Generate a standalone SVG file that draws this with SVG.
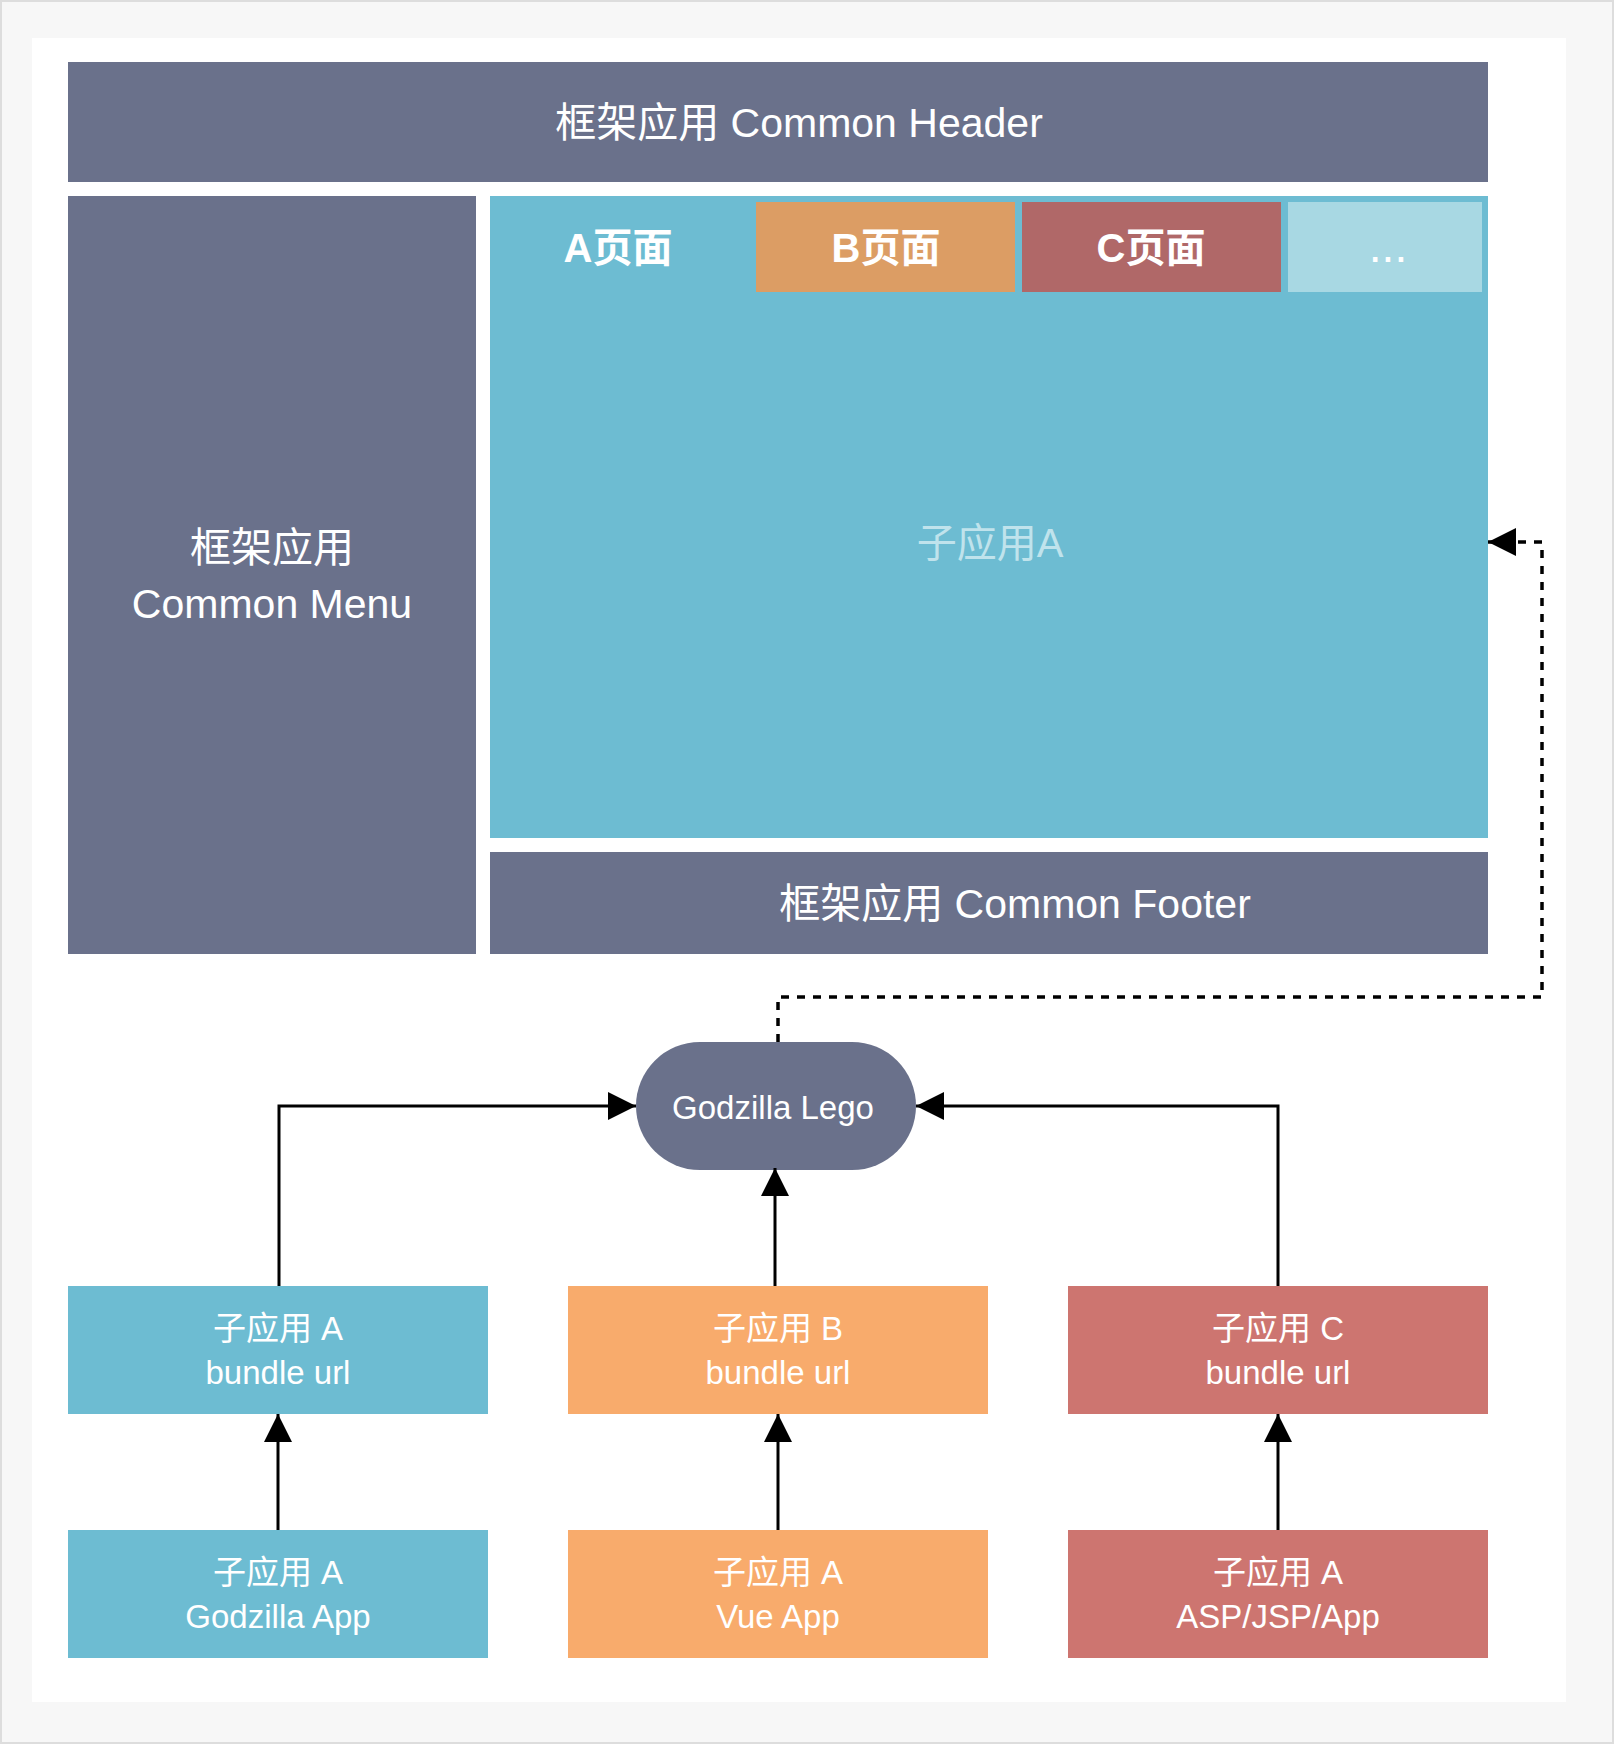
<svg xmlns="http://www.w3.org/2000/svg" width="1614" height="1744" viewBox="0 0 1614 1744">
<style>
.t{font-family:"Liberation Sans","Noto Sans CJK SC",sans-serif;fill:#ffffff;text-anchor:middle}
.big{font-size:41px}
.tab{font-size:40px;font-weight:bold}
.mid{font-size:33px}
.slate{fill:#6a718b}
.blue{fill:#6dbcd2}
.orange{fill:#f8ab6c}
.red{fill:#cd7570}
.conn{fill:none;stroke:#000000;stroke-width:3}
.dash{fill:none;stroke:#000000;stroke-width:3.5;stroke-dasharray:8 8}
</style>
<defs>
<marker id="ah" markerUnits="userSpaceOnUse" markerWidth="28" markerHeight="28" viewBox="0 0 28 28" refX="28" refY="14" orient="auto">
<path d="M0,0 L28,14 L0,28 Z" fill="#000000" stroke="none"/>
</marker>
</defs>
<rect x="1" y="1" width="1612" height="1742" fill="#f7f7f7" stroke="#dddddd" stroke-width="2"/>
<rect x="32" y="38" width="1534" height="1664" fill="#ffffff"/>
<g id="header">
<rect class="slate" x="68" y="62" width="1420" height="120"/>
<text class="t big" x="799" y="137">框架应用 Common Header</text>
</g>
<g id="menu">
<rect class="slate" x="68" y="196" width="408" height="758"/>
<text class="t big" x="272" y="562">框架应用</text>
<text class="t big" x="272" y="618">Common Menu</text>
</g>
<g id="content">
<rect class="blue" x="490" y="196" width="998" height="642"/>
<text x="990" y="557" style="font-family:'Liberation Sans','Noto Sans CJK SC',sans-serif;font-size:40px;fill:#c0e3ec;text-anchor:middle">子应用A</text>
</g>
<g id="tabA">
<text class="t tab" x="618" y="262">A页面</text>
</g>
<g id="tabB">
<rect x="756" y="202" width="259" height="90" fill="#dc9d64"/>
<text class="t tab" x="886" y="262">B页面</text>
</g>
<g id="tabC">
<rect x="1022" y="202" width="259" height="90" fill="#b06868"/>
<text class="t tab" x="1151" y="262">C页面</text>
</g>
<g id="tabMore">
<rect x="1288" y="202" width="194" height="90" fill="#a8d8e3"/>
<text class="t" x="1388" y="262" style="font-size:46px">...</text>
</g>
<g id="footer">
<rect class="slate" x="490" y="852" width="998" height="102"/>
<text class="t big" x="1015" y="918">框架应用 Common Footer</text>
</g>
<g id="lego">
<rect class="slate" x="636" y="1042" width="280" height="128" rx="64" ry="64"/>
<text class="t mid" x="773" y="1119">Godzilla Lego</text>
</g>
<g id="bundleA">
<rect class="blue" x="68" y="1286" width="420" height="128"/>
<text class="t mid" x="278" y="1340">子应用 A</text>
<text class="t mid" x="278" y="1384">bundle url</text>
</g>
<g id="bundleB">
<rect class="orange" x="568" y="1286" width="420" height="128"/>
<text class="t mid" x="778" y="1340">子应用 B</text>
<text class="t mid" x="778" y="1384">bundle url</text>
</g>
<g id="bundleC">
<rect class="red" x="1068" y="1286" width="420" height="128"/>
<text class="t mid" x="1278" y="1340">子应用 C</text>
<text class="t mid" x="1278" y="1384">bundle url</text>
</g>
<g id="appA">
<rect class="blue" x="68" y="1530" width="420" height="128"/>
<text class="t mid" x="278" y="1584">子应用 A</text>
<text class="t mid" x="278" y="1628">Godzilla App</text>
</g>
<g id="appB">
<rect class="orange" x="568" y="1530" width="420" height="128"/>
<text class="t mid" x="778" y="1584">子应用 A</text>
<text class="t mid" x="778" y="1628">Vue App</text>
</g>
<g id="appC">
<rect class="red" x="1068" y="1530" width="420" height="128"/>
<text class="t mid" x="1278" y="1584">子应用 A</text>
<text class="t mid" x="1278" y="1628">ASP/JSP/App</text>
</g>
<g id="connectors">
<path class="dash" d="M778,1042 V997 H1542 V542 H1488" marker-end="url(#ah)"/>
<path class="conn" d="M279,1286 V1106 H636" marker-end="url(#ah)"/>
<path class="conn" d="M775,1286 V1168" marker-end="url(#ah)"/>
<path class="conn" d="M1278,1286 V1106 H916" marker-end="url(#ah)"/>
<path class="conn" d="M278,1530 V1414" marker-end="url(#ah)"/>
<path class="conn" d="M778,1530 V1414" marker-end="url(#ah)"/>
<path class="conn" d="M1278,1530 V1414" marker-end="url(#ah)"/>
</g>
</svg>
